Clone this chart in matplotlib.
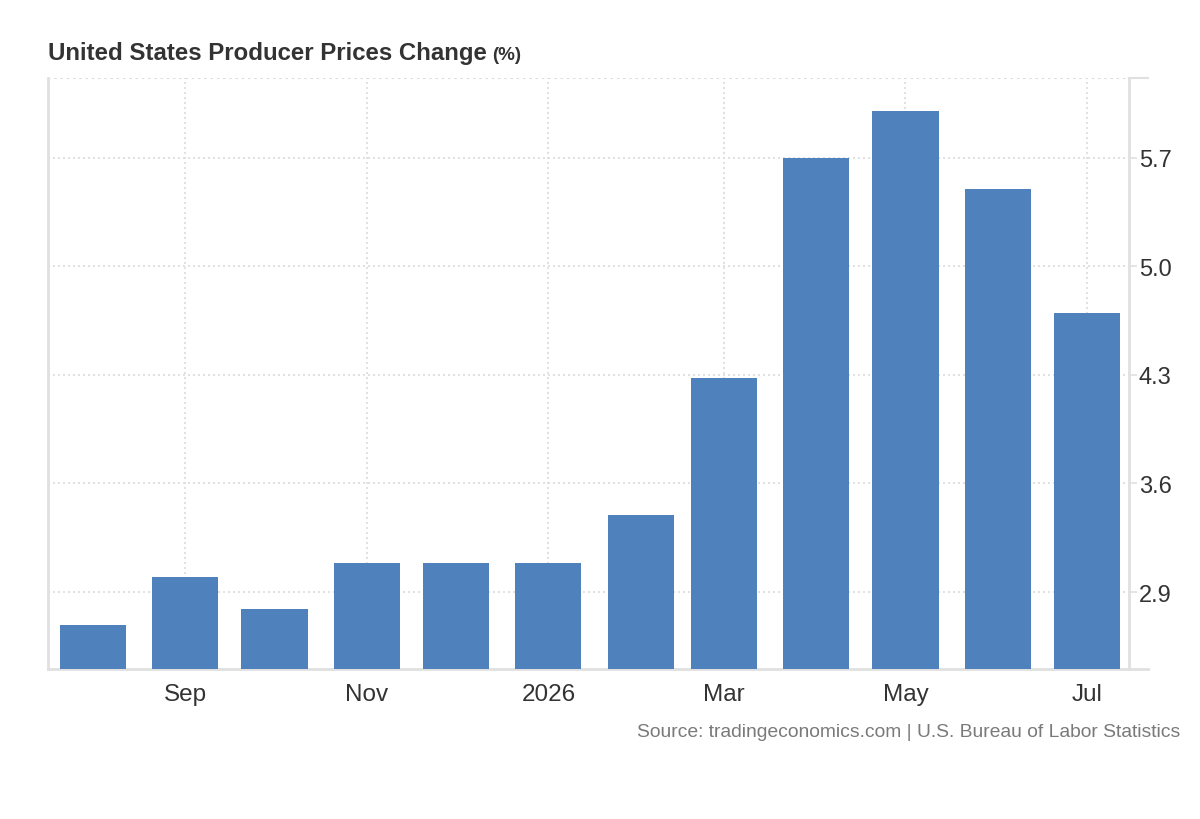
import matplotlib.pyplot as plt
import matplotlib.dates as mdates
import datetime as dt
from matplotlib.lines import Line2D

plt.rcParams['font.family'] = ['Liberation Sans', 'DejaVu Sans']

# Data: monthly producer price change, Aug 2025 - Jul 2026
months = [dt.date(2025, 8, 1), dt.date(2025, 9, 1), dt.date(2025, 10, 1), dt.date(2025, 11, 1),
          dt.date(2025, 12, 1), dt.date(2026, 1, 1), dt.date(2026, 2, 1), dt.date(2026, 3, 1),
          dt.date(2026, 4, 1), dt.date(2026, 5, 1), dt.date(2026, 6, 1), dt.date(2026, 7, 1)]
values = [2.69, 3.0, 2.79, 3.09, 3.09, 3.09, 3.4, 4.28, 5.7, 6.0, 5.5, 4.7]

tick_dates = [dt.date(2025, 9, 1), dt.date(2025, 11, 1), dt.date(2026, 1, 1),
              dt.date(2026, 3, 1), dt.date(2026, 5, 1), dt.date(2026, 7, 1)]
tick_labels = ["Sep", "Nov", "2026", "Mar", "May", "Jul"]
y_ticks = [2.9, 3.6, 4.3, 5.0, 5.7]

bar_color = "#4f81bd"
grid_color = "#dcdcdc"
line_color = "#e0e0e0"
text_color = "#333333"

fig = plt.figure(figsize=(12, 8.2), dpi=100)
ax = fig.add_axes([48 / 1200, 1 - 670 / 820, (1129 - 48) / 1200, (670 - 79) / 820])

x = mdates.date2num(months)
ax.bar(x, values, width=22.2, color=bar_color, align="center", zorder=3)

ax.set_xlim(mdates.date2num(dt.date(2025, 8, 1)) - 15.1,
            mdates.date2num(dt.date(2026, 7, 1)) + 14.1)
ax.set_ylim(2.404, 6.214)

ax.set_xticks(mdates.date2num(tick_dates))
ax.set_xticklabels(tick_labels)
ax.set_yticks(y_ticks)
ax.set_yticklabels([f"{v:.1f}" for v in y_ticks])

ax.yaxis.tick_right()
ax.tick_params(axis="y", length=6, width=1.2, color=line_color, pad=1,
               labelsize=17, labelcolor=text_color)
ax.tick_params(axis="x", length=0, pad=10, labelsize=17.5, labelcolor=text_color)

ax.grid(True, linestyle=(0, (1.2, 1.8)), color=grid_color, linewidth=1.2, zorder=0)
ax.axhline(6.214, linestyle=(0, (1.2, 1.8)), color=grid_color, linewidth=1.5, zorder=0)

ax.spines["top"].set_visible(False)
for side in ["left", "right", "bottom"]:
    ax.spines[side].set_color(line_color)
    ax.spines[side].set_linewidth(2)

# extensions of top and bottom lines past the right axis
fig.add_artist(Line2D([1129 / 1200, 1148 / 1200], [1 - 79 / 820, 1 - 79 / 820],
                      color=line_color, linewidth=1.5))
fig.add_artist(Line2D([1129 / 1200, 1148 / 1200], [1 - 670 / 820, 1 - 670 / 820],
                      color=line_color, linewidth=2))

title = fig.text(48 / 1200, 1 - 60 / 820, "United States Producer Prices Change",
                 fontsize=17.3, fontweight="bold", color=text_color, ha="left", va="baseline")
fig.canvas.draw()
bb = title.get_window_extent(renderer=fig.canvas.get_renderer())
fig.text(bb.x1 / 1200 + 5 / 1200, 1 - 60 / 820, "(%)",
         fontsize=13.5, fontweight="bold", color=text_color, ha="left", va="baseline")

fig.text(1180 / 1200, 1 - 733 / 820,
         "Source: tradingeconomics.com | U.S. Bureau of Labor Statistics",
         fontsize=13.9, color="#7a7a7a", ha="right", va="center")

fig.savefig("out.png", dpi=100)
